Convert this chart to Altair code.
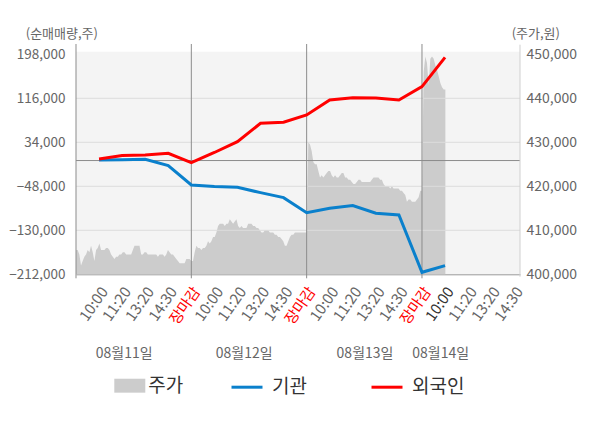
import json
import altair as alt
import pandas as pd

# ---------------- data ----------------
X_LABELS = ['10:00', '11:20', '13:20', '14:30', '장마감',
            '10:00', '11:20', '13:20', '14:30', '장마감',
            '10:00', '11:20', '13:20', '14:30', '장마감',
            '10:00', '11:20', '13:20', '14:30']
DATE_LABELS = ['08월11일', '08월12일', '08월13일', '08월14일']
DATE_POS = [2.09, 7.29, 12.53, 15.81]

LINE_K = list(range(1, 17))
INST = [1100, 1700, 2300, -9500, -45500, -48600, -49900, -59800, -69100,
        -97100, -89000, -84000, -98300, -101400, -208300, -195800]
FOREIGN = [2900, 9200, 10400, 13500, -3900, 15000, 35200, 69400, 71300,
           84900, 112900, 117200, 116600, 112900, 137700, 192400]

PRICE_DAY1 = [405500, 405500, 404500, 402000, 403000, 404000, 404500, 405500, 405000, 406500,
              405000, 403000, 405500, 406000, 407000, 405500, 405500, 405500, 406000, 406000,
              405500, 404500, 404000, 403500, 404000, 404000, 404500, 404500, 405000, 405000,
              404500, 404500, 404500, 404500, 405500, 406500, 406500, 406500, 406500, 404500,
              404500, 405000, 405000, 404500, 404500, 404500, 404500, 404500, 404500, 404000,
              404500, 404500, 404500, 404000, 404500, 405500, 405000, 404500, 404500, 404000,
              403500, 403000, 402500, 402500, 402500, 402500, 403500, 403500, 403500, 403000]
PRICE_DAY2 = [403000, 405000, 406500, 406000, 406000, 405500, 406000, 406000, 406500, 407500,
              407000, 407500, 408500, 408500, 409500, 411000, 411500, 411500, 411500, 411000,
              411500, 411500, 412500, 412000, 411500, 412000, 412500, 411000, 410500, 411000,
              410500, 410500, 410500, 411500, 411500, 411500, 411000, 411000, 410500, 410500,
              410000, 409500, 409500, 410000, 410000, 410000, 409500, 409500, 409500, 409000,
              409000, 408500, 408500, 408000, 407500, 406500, 406500, 407500, 408500, 409000,
              409000, 409500, 409500, 409500, 409500, 409500, 409500, 409500, 409500]
PRICE_DAY3 = [430000, 429500, 428000, 425500, 425000, 425000, 423500, 422000, 422500, 422000,
              422500, 423000, 423500, 423500, 422500, 422000, 422500, 422000, 422000, 422500,
              423000, 423000, 422000, 422000, 421500, 421500, 421000, 420500, 420500, 421000,
              421500, 421500, 421000, 421000, 421000, 421000, 421000, 421000, 421500, 422000,
              422000, 422000, 422000, 421500, 421500, 420500, 420000, 420000, 420000, 419500,
              420000, 419500, 419500, 419500, 419500, 419000, 419000, 418500, 418000, 416500,
              417000, 417000, 416500, 416500, 416500, 417000, 417500, 419000, 419000]
PRICE_DAY4 = [446000, 449500, 448000, 443000, 449000, 449500, 449000, 447500, 446500, 445000,
              443500, 442500, 442000, 442000]

LEFT_TICKS = [198000, 116000, 34000, -48000, -130000, -212000]
GRID_VALUES = [116000, 34000, -48000, -130000]
RIGHT_TICKS = [450000, 440000, 430000, 420000, 410000, 400000]
DAY_SEPARATORS = [0, 5, 10, 15]

# ---------------- layout constants ----------------
W = 444
H = 222.6
X_MAX = 19.25
STEP = 5 / 69
LEFT_DOMAIN = [-212000, 202845]
RIGHT_DOMAIN = [400000, 450591]
FONT = 'Noto Sans CJK KR'

price = PRICE_DAY1 + PRICE_DAY2 + PRICE_DAY3 + PRICE_DAY4
price_df = pd.DataFrame({'k': [i * STEP for i in range(len(price))],
                         'price': price, 's': '주가'})
lines_df = pd.DataFrame({'k': LINE_K + LINE_K, 'v': INST + FOREIGN,
                         'series': ['기관'] * len(INST) + ['외국인'] * len(FOREIGN)})
grid_df = pd.DataFrame({'v': GRID_VALUES})
zero_df = pd.DataFrame({'v': [0]})
sep_df = pd.DataFrame({'k': DAY_SEPARATORS})
edge_df = pd.DataFrame({'k': [X_MAX]})
date_df = pd.DataFrame({'k': DATE_POS, 'label': DATE_LABELS})

label_expr = json.dumps(X_LABELS, ensure_ascii=False) + '[datum.value - 1]'

xaxis = alt.Axis(values=list(range(1, len(X_LABELS) + 1)), labelExpr=label_expr,
                 labelAngle=-55, labelAlign='right', labelBaseline='middle',
                 labelPadding=14, labelOffset=5, labelFontSize=15,
                 labelColor={'condition': [{'test': 'datum.value % 5 === 0', 'value': '#ff0000'},
                                           {'test': 'datum.value === 16', 'value': '#333333'}],
                             'value': '#666666'},
                 labelOverlap=False, labelFlush=False, ticks=False, tickSize=0,
                 grid=False, domainColor='#999999', domainWidth=1, title=None)
xenc = alt.X('k:Q', scale=alt.Scale(domain=[0, X_MAX], nice=False, zero=False), axis=xaxis)
left_scale = alt.Scale(domain=LEFT_DOMAIN, nice=False, zero=False)

area = alt.Chart(price_df).mark_area(interpolate='linear', clip=True, opacity=1).encode(
    x=xenc,
    y=alt.Y('price:Q', scale=alt.Scale(domain=RIGHT_DOMAIN, nice=False, zero=False),
            axis=alt.Axis(orient='right', values=RIGHT_TICKS, format=',d', labelFontSize=14,
                          labelColor='#666666', labelPadding=6, ticks=False, tickSize=0,
                          domain=False, grid=False, title='(주가,원)', titleAngle=0,
                          titleX=15.3, titleY=-18, titleAlign='center', titleBaseline='middle',
                          titleFontSize=13, titleFontWeight='normal', titleColor='#666666')),
    fill=alt.Fill('s:N', scale=alt.Scale(domain=['주가'], range=['#cccccc']),
                  legend=alt.Legend(orient='none', legendX=38.3, legendY=318.5, title=None,
                                    symbolType='M-1,-0.45H1V0.45H-1Z', symbolSize=961,
                                    symbolStrokeWidth=0, labelFontSize=19, labelColor='#333333',
                                    labelOffset=3, padding=0))
)

grid = alt.Chart(grid_df).mark_rule(color='#dcdcdc', strokeWidth=1).encode(
    y=alt.Y('v:Q', scale=left_scale,
            axis=alt.Axis(orient='left', values=LEFT_TICKS, format=',d', labelFontSize=13.5,
                          labelColor='#666666', labelPadding=11, ticks=False, tickSize=0,
                          domain=False, grid=False, title='(순매매량,주)', titleAngle=0,
                          titleX=-14.7, titleY=-18, titleAlign='center', titleBaseline='middle',
                          titleFontSize=13, titleFontWeight='normal', titleColor='#666666'))
)

zero = alt.Chart(zero_df).mark_rule(color='#8c8c8c', strokeWidth=1).encode(
    y=alt.Y('v:Q', scale=left_scale, axis=None)
)

seps = alt.Chart(sep_df).mark_rule(color='#8c8c8c', strokeWidth=1).encode(
    x=xenc, y=alt.value(-7.7), y2=alt.value(H + 4)
)

edge = alt.Chart(edge_df).mark_rule(color='#cfcfcf', strokeWidth=1).encode(
    x=xenc, y=alt.value(-7), y2=alt.value(H + 2.4)
)

lines = alt.Chart(lines_df).mark_line(strokeWidth=3).encode(
    x=xenc,
    y=alt.Y('v:Q', scale=left_scale, axis=None),
    stroke=alt.Stroke('series:N', scale=alt.Scale(domain=['기관', '외국인'],
                                                  range=['#0a80cc', '#ff0000']),
                      legend=alt.Legend(orient='none', legendX=154, legendY=318.5, title=None,
                                        direction='horizontal', symbolType='stroke',
                                        symbolSize=961, symbolStrokeWidth=3,
                                        labelFontSize=19, labelColor='#333333',
                                        labelOffset=8, columnPadding=58, padding=0))
)

dates = alt.Chart(date_df).mark_text(fontSize=14, color='#666666', align='center',
                                     baseline='middle', font=FONT).encode(
    x=xenc, y=alt.value(302.3), text='label:N'
)

chart = alt.layer(area, grid, zero, seps, edge, lines, dates).resolve_scale(
    y='independent'
).properties(
    width=W, height=H,
    autosize=alt.AutoSizeParams(type='none'),
    padding={'left': 68, 'top': 43.7, 'right': 72, 'bottom': 150}
).configure(font=FONT).configure_view(fill='#f4f4f4', strokeWidth=0)

chart.save('out.html', embed_options={'renderer': 'svg', 'actions': False})
